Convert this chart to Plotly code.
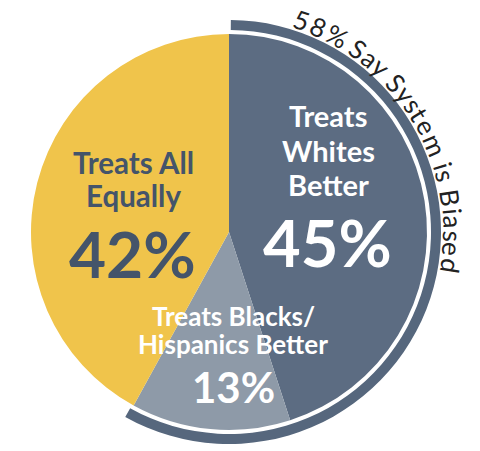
import math
import plotly.graph_objects as go

# ---- data ----
categories = ["Treats Whites Better", "Treats Blacks/Hispanics Better", "Treats All Equally"]
values = [45, 13, 42]
biased_share = 58
biased_label = "58% Say System is Biased"
label_lines = [["Treats", "Whites", "Better"], ["Treats Blacks/", "Hispanics Better"], ["Treats All", "Equally"]]

# ---- style / layout ----
W, H = 480, 451
OFF = 8  # page body margin
CX, CY, R = 229, 232, 198
RING_IN, RING_OUT = 202, 212
slice_colors = ["#5c6c82", "#8e9aa8", "#f0c44b"]
ring_color = "#56677d"
FONT = "Lato"

def dom(r):
    return dict(x=[(CX - OFF - r) / W, (CX - OFF + r) / W],
                y=[(H - (CY - OFF) - r) / H, (H - (CY - OFF) + r) / H])

fig = go.Figure()
fig.add_trace(go.Pie(values=values, labels=categories, sort=False, direction="clockwise",
                     rotation=0, marker=dict(colors=slice_colors, line=dict(width=0)),
                     textinfo="none", hoverinfo="skip", showlegend=False, domain=dom(R)))
fig.add_trace(go.Pie(values=[biased_share, 100 - biased_share], labels=["Biased", "Rest"], sort=False,
                     direction="clockwise", rotation=0.5, hole=RING_IN / RING_OUT,
                     marker=dict(colors=[ring_color, "rgba(0,0,0,0)"], line=dict(width=0)),
                     textinfo="none", hoverinfo="skip", showlegend=False, domain=dom(RING_OUT)))

annotations = []

def add_text(txt, x, baseline, size, color):
    annotations.append(dict(x=x, y=baseline - 0.39 * size, text=txt, showarrow=False,
                            xref="x", yref="y", xanchor="center", yanchor="middle",
                            font=dict(family=FONT, size=size, color=color, weight="bold")))

# label placement (center x, baselines, sizes)
label_pos = [
    dict(x=328, base=[127, 161.5, 196], size=29, pct_base=267, pct_x=327, pct_size=65, color="white"),
    dict(x=233, base=[326.5, 354], size=26, pct_base=403, pct_x=233, pct_size=42, color="white"),
    dict(x=133, base=[174, 207], size=29.5, pct_base=278, pct_x=132.5, pct_size=64, color="#44546a"),
]
for lines, v, p in zip(label_lines, values, label_pos):
    for ln, b in zip(lines, p["base"]):
        add_text(ln, p["x"], b, p["size"], p["color"])
    add_text(f"{v}%", p["pct_x"], p["pct_base"], p["pct_size"], p["color"])

# curved text along the ring
widths = {'5': 0.58, '8': 0.58, '%': 0.70, ' ': 0.2, 'S': 0.48, 'a': 0.45, 'y': 0.46, 's': 0.385,
          't': 0.33, 'e': 0.49, 'm': 0.80, 'i': 0.235, 'B': 0.63, 'd': 0.55}
A0, A1 = 16.5, 101.0
CT_SIZE = 26
R_BASE = 214
total = sum(widths.get(c, 0.5) for c in biased_label)
acc = 0.0
for c in biased_label:
    w = widths.get(c, 0.5)
    frac = (acc + w / 2) / total
    acc += w
    if c == " ":
        continue
    ang = A0 + frac * (A1 - A0)
    rr = R_BASE + 0.39 * CT_SIZE
    x = CX + rr * math.sin(math.radians(ang))
    y = CY - rr * math.cos(math.radians(ang))
    annotations.append(dict(x=x, y=y, text=c, showarrow=False, xref="x", yref="y",
                            xanchor="center", yanchor="middle", textangle=ang,
                            font=dict(family=FONT, size=CT_SIZE, color="#222222")))

fig.update_layout(width=W, height=H, margin=dict(l=0, r=0, t=0, b=0),
                  paper_bgcolor="white", plot_bgcolor="rgba(0,0,0,0)",
                  xaxis=dict(range=[OFF, W + OFF], visible=False, fixedrange=True),
                  yaxis=dict(range=[H + OFF, OFF], visible=False, fixedrange=True),
                  annotations=annotations, showlegend=False)
fig.write_html("out.html")
